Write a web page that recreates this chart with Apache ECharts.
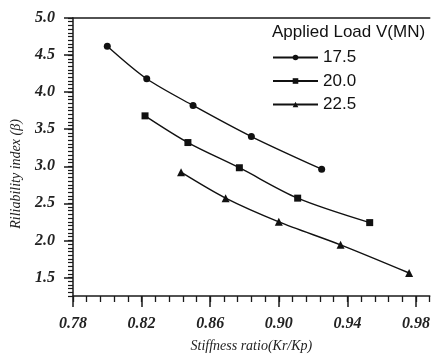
<!DOCTYPE html>
<html>
<head>
<meta charset="utf-8">
<script src="https://cdn.jsdelivr.net/npm/echarts@6/dist/echarts.min.js"></script>
<style>
  html, body { margin: 0; padding: 0; background: #fff; }
  #chart { width: 433px; height: 358px; }
</style>
</head>
<body>
<div id="chart"></div>
<script>
// stiffness ratio (Kr/Kp) vs reliability index for three loads
var load175X = [0.800, 0.823, 0.850, 0.884, 0.925];
var load175Y = [4.62, 4.18, 3.82, 3.40, 2.96];
var load200X = [0.822, 0.847, 0.877, 0.911, 0.953];
var load200Y = [3.68, 3.32, 2.98, 2.57, 2.24];
var load225X = [0.843, 0.869, 0.900, 0.936, 0.976];
var load225Y = [2.92, 2.57, 2.25, 1.94, 1.56];

var xTickLabels = [0.78, 0.82, 0.86, 0.90, 0.94, 0.98];
var yTickLabels = [1.5, 2.0, 2.5, 3.0, 3.5, 4.0, 4.5, 5.0];

var xMin = 0.78, xMax = 0.988;
var yMin = 1.25, yMax = 5.0;

var xMinor = [];
for (var i = 0; i <= 26; i++) xMinor.push(+(xMin + i * 0.008).toFixed(3));
var yMinor = [];
for (var j = 0; j <= 75; j++) yMinor.push(+(yMin + j * 0.05).toFixed(2));

function pairs(xs, ys) {
    var out = [];
    for (var k = 0; k < xs.length; k++) out.push([xs[k], ys[k]]);
    return out;
}

var axisColor = '#1a1a1a';
var serif = '"Liberation Serif", "DejaVu Serif", serif';
var sans = '"Liberation Sans", Arial, sans-serif';

var myChart = echarts.init(document.getElementById('chart'));

var option = {
    animation: false,
    backgroundColor: '#fff',
    title: {
        text: 'Applied Load V(MN)',
        left: 272,
        top: 24,
        padding: 0,
        textStyle: {
            fontFamily: sans,
            fontSize: 17,
            fontWeight: 'normal',
            color: '#111'
        }
    },
    legend: {
        orient: 'vertical',
        left: 272,
        top: 49,
        padding: 0,
        itemWidth: 45,
        itemHeight: 7,
        itemGap: 6.5,
        textStyle: {
            fontFamily: sans,
            fontSize: 17,
            color: '#111',
            lineHeight: 17
        },
        data: ['17.5', '20.0', '22.5']
    },
    grid: {
        left: 73,
        right: 0,
        top: 18,
        bottom: 58
    },
    xAxis: [{
        type: 'value',
        position: 'bottom',
        min: xMin,
        max: xMax,
        splitLine: { show: false },
        axisLine: { show: true, lineStyle: { color: axisColor, width: 1.5 } },
        axisTick: { show: true, customValues: xMinor, length: 6, lineStyle: { color: axisColor, width: 1.3 } },
        axisLabel: { show: false },
        name: 'Stiffness ratio(Kr/Kp)',
        nameLocation: 'middle',
        nameGap: 43,
        nameTextStyle: {
            fontFamily: serif,
            fontStyle: 'italic',
            fontSize: 14,
            color: '#222'
        }
    }, {
        type: 'value',
        position: 'bottom',
        min: xMin,
        max: xMax,
        splitLine: { show: false },
        axisLine: { show: false },
        axisTick: { show: true, customValues: xTickLabels, length: 11, lineStyle: { color: axisColor, width: 1.5 } },
        axisLabel: {
            customValues: xTickLabels,
            margin: 20,
            fontFamily: serif,
            fontStyle: 'italic',
            fontWeight: 'bold',
            fontSize: 16,
            color: '#222',
            formatter: function (v) { return v.toFixed(2); }
        }
    }, {
        type: 'value',
        position: 'top',
        min: xMin,
        max: xMax,
        splitLine: { show: false },
        axisLine: { show: true, lineStyle: { color: axisColor, width: 1.5 } },
        axisTick: { show: false },
        axisLabel: { show: false }
    }],
    yAxis: [{
        type: 'value',
        position: 'left',
        min: yMin,
        max: yMax,
        splitLine: { show: false },
        axisLine: { show: true, lineStyle: { color: axisColor, width: 1.5 } },
        axisTick: { show: true, customValues: yMinor, length: 5, lineStyle: { color: axisColor, width: 1.2 } },
        axisLabel: { show: false },
        name: 'Riliability index (β)',
        nameLocation: 'middle',
        nameRotate: 90,
        nameGap: 50,
        nameTextStyle: {
            fontFamily: serif,
            fontStyle: 'italic',
            fontSize: 14,
            color: '#222',
            padding: [0, 34, 0, 0]
        }
    }, {
        type: 'value',
        position: 'left',
        min: yMin,
        max: yMax,
        splitLine: { show: false },
        axisLine: { show: false },
        axisTick: { show: true, customValues: yTickLabels, length: 9, lineStyle: { color: axisColor, width: 1.5 } },
        axisLabel: {
            customValues: yTickLabels,
            margin: 18,
            fontFamily: serif,
            fontStyle: 'italic',
            fontWeight: 'bold',
            fontSize: 16,
            color: '#222',
            formatter: function (v) { return v.toFixed(1); }
        }
    }],
    series: [{
        name: '17.5',
        type: 'line',
        smooth: 0.3,
        symbol: 'circle',
        symbolSize: 7,
        data: pairs(load175X, load175Y),
        lineStyle: { color: '#111', width: 1.4 },
        itemStyle: { color: '#111' }
    }, {
        name: '20.0',
        type: 'line',
        smooth: 0.3,
        symbol: 'rect',
        symbolSize: 7,
        data: pairs(load200X, load200Y),
        lineStyle: { color: '#111', width: 1.4 },
        itemStyle: { color: '#111' }
    }, {
        name: '22.5',
        type: 'line',
        smooth: 0.3,
        symbol: 'triangle',
        symbolSize: 8,
        data: pairs(load225X, load225Y),
        lineStyle: { color: '#111', width: 1.4 },
        itemStyle: { color: '#111' }
    }]
};

myChart.setOption(option);
</script>
</body>
</html>
